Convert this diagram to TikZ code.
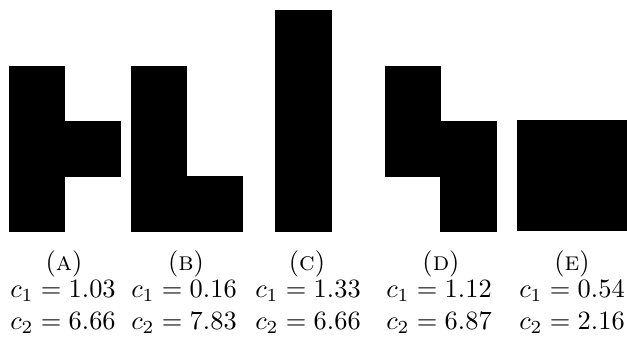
\documentclass[tikz,border=0pt]{standalone}
\usepackage{tikz}

\begin{document}
\begin{tikzpicture}[x=0.5pt,y=-0.5pt,
    cell/.style={fill=black,draw=black,line width=0.1pt},
    lbl/.style={scale=1.32,anchor=base,inner sep=0pt}]
  \useasboundingbox (0,0) rectangle (627,341);

  % (A): column of three, one cell sticking out right
  \draw[cell] (9,66) rectangle (64.5,121);
  \draw[cell] (9,121) rectangle (64.5,176);
  \draw[cell] (9,176) rectangle (64.5,231);
  \draw[cell] (64.5,121) rectangle (120,176);
  \node[lbl] (capA) at (64,271) {(\textsc{a})};
  \node[lbl] (cA1) at (63,298) {$c_1 = 1.03$};
  \node[lbl] (cA2) at (63,330) {$c_2 = 6.66$};

  % (B): L-piece
  \draw[cell] (131,66) rectangle (186.5,121);
  \draw[cell] (131,121) rectangle (186.5,176);
  \draw[cell] (131,176) rectangle (186.5,231);
  \draw[cell] (186.5,176) rectangle (242,231);
  \node[lbl] (capB) at (186,271) {(\textsc{b})};
  \node[lbl] (cB1) at (184,298) {$c_1 = 0.16$};
  \node[lbl] (cB2) at (184,330) {$c_2 = 7.83$};

  % (C): straight bar of four
  \draw[cell] (275,10) rectangle (331,65.3);
  \draw[cell] (275,65.3) rectangle (331,120.5);
  \draw[cell] (275,120.5) rectangle (331,175.8);
  \draw[cell] (275,175.8) rectangle (331,231);
  \node[lbl] (capC) at (307,271) {(\textsc{c})};
  \node[lbl] (cC1) at (308,298) {$c_1 = 1.33$};
  \node[lbl] (cC2) at (308,330) {$c_2 = 6.66$};

  % (D): S-piece
  \draw[cell] (385,66) rectangle (440.5,121);
  \draw[cell] (385,121) rectangle (440.5,176);
  \draw[cell] (440.5,121) rectangle (496,176);
  \draw[cell] (440.5,176) rectangle (496,231);
  \node[lbl] (capD) at (441,271) {(\textsc{d})};
  \node[lbl] (cD1) at (439,298) {$c_1 = 1.12$};
  \node[lbl] (cD2) at (439,330) {$c_2 = 6.87$};

  % (E): square of four
  \draw[cell] (517,120) rectangle (572,175);
  \draw[cell] (572,120) rectangle (627,175);
  \draw[cell] (517,175) rectangle (572,230);
  \draw[cell] (572,175) rectangle (627,230);
  \node[lbl] (capE) at (572,271) {(\textsc{e})};
  \node[lbl] (cE1) at (572,298) {$c_1 = 0.54$};
  \node[lbl] (cE2) at (572,330) {$c_2 = 2.16$};
\end{tikzpicture}
\end{document}
